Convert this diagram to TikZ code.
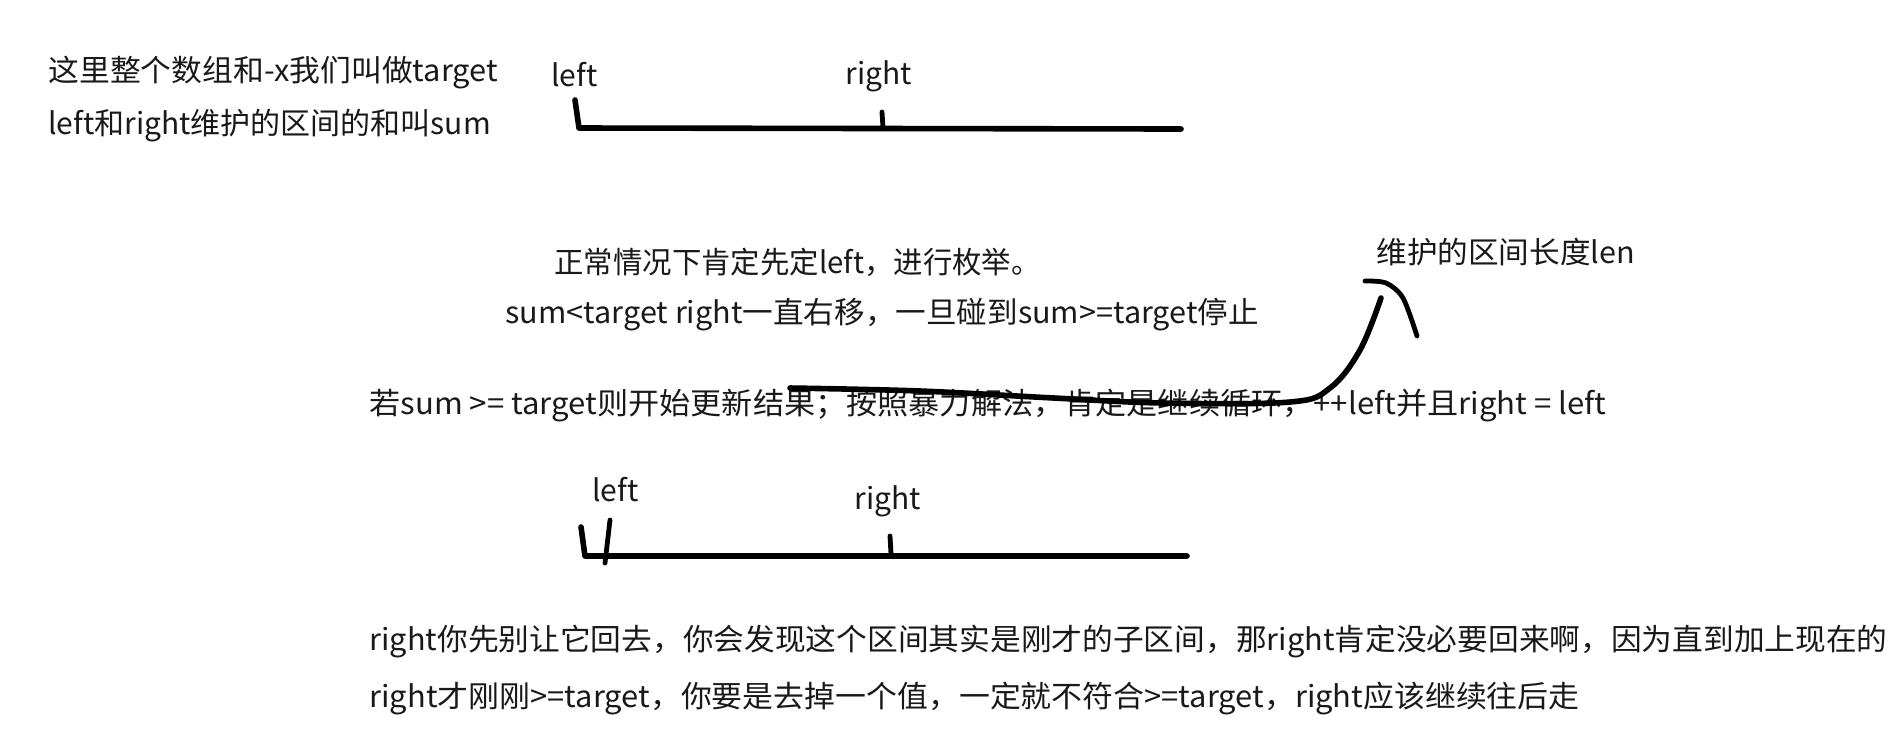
\documentclass[tikz,border=0pt]{standalone}
\usepackage{fontspec}
\setmainfont{Noto Sans CJK SC}
\begin{document}
\begin{tikzpicture}[x=0.5pt,y=-0.5pt,
  txt/.style={anchor=west,inner sep=0pt,text=black!90,font=\fontsize{15pt}{18pt}\selectfont},
  stroke/.style={line width=2.8pt,line cap=round,line join=round},
  thin stroke/.style={line width=2.4pt,line cap=round,line join=round}]
\useasboundingbox[fill=white] (0,0) rectangle (1899,752);
% texts
\node[txt,xscale=1.027,transform shape] (t1) at (48,73) {这里整个数组和-x我们叫做target};
\node[txt] (t2) at (48,126) {left和right维护的区间的和叫sum};
\node[txt] (l1) at (551,75) {left};
\node[txt] (r1) at (845,76) {right};
\node[txt,xscale=0.98,transform shape] (t3) at (554,262) {正常情况下肯定先定left，进行枚举。};
\node[txt,xscale=1.02,transform shape] (t4) at (505,315) {sum<target right一直右移，一旦碰到sum>=target停止};
\node[txt,xscale=1.02,transform shape] (len) at (1376,252) {维护的区间长度len};
\node[txt,xscale=1.038,transform shape] (t5) at (369,406) {若sum >= target则开始更新结果；按照暴力解法，肯定是继续循环，++left并且right = left};
\node[txt] (l2) at (592,490) {left};
\node[txt] (r2) at (854,501) {right};
\node[txt,xscale=1.024,transform shape] (t6) at (369,642) {right你先别让它回去，你会发现这个区间其实是刚才的子区间，那right肯定没必要回来啊，因为直到加上现在的};
\node[txt,xscale=1.03,transform shape] (t7) at (369,699) {right才刚刚>=target，你要是去掉一个值，一定就不符合>=target，right应该继续往后走};
% top interval
\coordinate (a1) at (575,100);
\coordinate (a2) at (579,128);
\coordinate (a3) at (1181,129);
\draw[stroke] (a1) -- (a2) -- (a3);
\coordinate (rt1) at (882,112);
\coordinate (rt2) at (883,128);
\draw[thin stroke] (rt1) -- (rt2);
% bottom interval
\coordinate (b1) at (581,527);
\coordinate (b2) at (585,556);
\coordinate (b3) at (1187,556);
\draw[stroke] (b1) -- (b2) -- (b3);
\coordinate (bt1) at (610,520);
\coordinate (bt2) at (605,563);
\draw[thin stroke] (bt1) -- (bt2);
\coordinate (br1) at (890,536);
\coordinate (br2) at (891,554);
\draw[thin stroke] (br1) -- (br2);
% hand-drawn arrow
\draw[stroke] plot[smooth,tension=0.6] coordinates {(790,388) (920,391) (1054,398) (1163,403) (1290,402) (1330,388) (1360,350) (1381,298)};
\draw[thin stroke] plot[smooth,tension=0.5] coordinates {(1365,281) (1386,283) (1403,298) (1417,336)};
\end{tikzpicture}
\end{document}
